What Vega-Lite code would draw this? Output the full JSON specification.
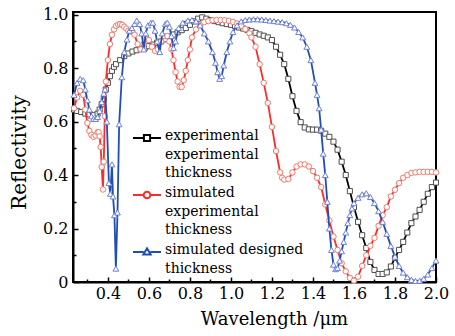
{
  "$schema": "https://vega.github.io/schema/vega-lite/v6.json",
  "autosize": {"type": "none"},
  "width": 363,
  "height": 270,
  "padding": {"left": 73, "top": 12, "right": 19, "bottom": 54},
  "config": {
    "view": {"stroke": "black", "strokeWidth": 2},
    "font": "DejaVu Serif"
  },
  "data": {"values": [
    {"s":"e","x":0.235,"y":0.645},{"s":"e","x":0.25,"y":0.64},{"s":"e","x":0.27,"y":0.636},{"s":"e","x":0.29,"y":0.63},{"s":"e","x":0.31,"y":0.627},{"s":"e","x":0.33,"y":0.625},{"s":"e","x":0.35,"y":0.63},{"s":"e","x":0.36,"y":0.645},{"s":"e","x":0.37,"y":0.665},{"s":"e","x":0.38,"y":0.685},{"s":"e","x":0.39,"y":0.72},{"s":"e","x":0.40,"y":0.745},{"s":"e","x":0.41,"y":0.77},{"s":"e","x":0.42,"y":0.79},{"s":"e","x":0.43,"y":0.805},{"s":"e","x":0.44,"y":0.815},{"s":"e","x":0.46,"y":0.83},{"s":"e","x":0.48,"y":0.845},{"s":"e","x":0.50,"y":0.855},{"s":"e","x":0.52,"y":0.862},{"s":"e","x":0.54,"y":0.867},{"s":"e","x":0.56,"y":0.872},{"s":"e","x":0.58,"y":0.876},{"s":"e","x":0.60,"y":0.882},{"s":"e","x":0.62,"y":0.888},{"s":"e","x":0.64,"y":0.895},{"s":"e","x":0.66,"y":0.90},{"s":"e","x":0.68,"y":0.908},{"s":"e","x":0.70,"y":0.918},{"s":"e","x":0.72,"y":0.926},{"s":"e","x":0.74,"y":0.934},{"s":"e","x":0.76,"y":0.942},{"s":"e","x":0.78,"y":0.95},{"s":"e","x":0.80,"y":0.962},{"s":"e","x":0.82,"y":0.975},{"s":"e","x":0.84,"y":0.985},{"s":"e","x":0.86,"y":0.99},{"s":"e","x":0.88,"y":0.985},{"s":"e","x":0.90,"y":0.98},{"s":"e","x":0.92,"y":0.976},{"s":"e","x":0.94,"y":0.972},{"s":"e","x":0.96,"y":0.968},{"s":"e","x":0.98,"y":0.965},{"s":"e","x":1.00,"y":0.962},{"s":"e","x":1.02,"y":0.958},{"s":"e","x":1.04,"y":0.952},{"s":"e","x":1.06,"y":0.948},{"s":"e","x":1.08,"y":0.943},{"s":"e","x":1.10,"y":0.938},{"s":"e","x":1.12,"y":0.932},{"s":"e","x":1.14,"y":0.926},{"s":"e","x":1.16,"y":0.921},{"s":"e","x":1.18,"y":0.915},{"s":"e","x":1.20,"y":0.905},{"s":"e","x":1.22,"y":0.88},{"s":"e","x":1.24,"y":0.85},{"s":"e","x":1.26,"y":0.815},{"s":"e","x":1.28,"y":0.76},{"s":"e","x":1.30,"y":0.695},{"s":"e","x":1.32,"y":0.64},{"s":"e","x":1.34,"y":0.598},{"s":"e","x":1.36,"y":0.578},{"s":"e","x":1.38,"y":0.571},{"s":"e","x":1.40,"y":0.57},{"s":"e","x":1.42,"y":0.57},{"s":"e","x":1.44,"y":0.566},{"s":"e","x":1.46,"y":0.555},{"s":"e","x":1.48,"y":0.543},{"s":"e","x":1.50,"y":0.525},{"s":"e","x":1.52,"y":0.495},{"s":"e","x":1.54,"y":0.45},{"s":"e","x":1.56,"y":0.40},{"s":"e","x":1.58,"y":0.34},{"s":"e","x":1.60,"y":0.28},{"s":"e","x":1.62,"y":0.225},{"s":"e","x":1.64,"y":0.175},{"s":"e","x":1.66,"y":0.127},{"s":"e","x":1.68,"y":0.075},{"s":"e","x":1.70,"y":0.045},{"s":"e","x":1.72,"y":0.03},{"s":"e","x":1.74,"y":0.03},{"s":"e","x":1.76,"y":0.036},{"s":"e","x":1.78,"y":0.058},{"s":"e","x":1.80,"y":0.09},{"s":"e","x":1.82,"y":0.12},{"s":"e","x":1.84,"y":0.15},{"s":"e","x":1.86,"y":0.185},{"s":"e","x":1.88,"y":0.22},{"s":"e","x":1.90,"y":0.245},{"s":"e","x":1.92,"y":0.27},{"s":"e","x":1.94,"y":0.30},{"s":"e","x":1.96,"y":0.33},{"s":"e","x":1.98,"y":0.355},{"s":"e","x":2.00,"y":0.372},

    {"s":"s","x":0.235,"y":0.65},{"s":"s","x":0.25,"y":0.69},{"s":"s","x":0.265,"y":0.715},{"s":"s","x":0.28,"y":0.70},{"s":"s","x":0.29,"y":0.645},{"s":"s","x":0.30,"y":0.595},{"s":"s","x":0.31,"y":0.565},{"s":"s","x":0.32,"y":0.55},{"s":"s","x":0.33,"y":0.543},{"s":"s","x":0.34,"y":0.548},{"s":"s","x":0.35,"y":0.56},{"s":"s","x":0.355,"y":0.56},{"s":"s","x":0.36,"y":0.545},{"s":"s","x":0.365,"y":0.505},{"s":"s","x":0.37,"y":0.43},{"s":"s","x":0.376,"y":0.346},{"s":"s","x":0.38,"y":0.45},{"s":"s","x":0.385,"y":0.62},{"s":"s","x":0.39,"y":0.75},{"s":"s","x":0.40,"y":0.83},{"s":"s","x":0.41,"y":0.89},{"s":"s","x":0.42,"y":0.925},{"s":"s","x":0.43,"y":0.945},{"s":"s","x":0.44,"y":0.958},{"s":"s","x":0.45,"y":0.963},{"s":"s","x":0.46,"y":0.965},{"s":"s","x":0.47,"y":0.962},{"s":"s","x":0.48,"y":0.955},{"s":"s","x":0.49,"y":0.948},{"s":"s","x":0.50,"y":0.94},{"s":"s","x":0.52,"y":0.935},{"s":"s","x":0.53,"y":0.925},{"s":"s","x":0.545,"y":0.89},{"s":"s","x":0.56,"y":0.87},{"s":"s","x":0.575,"y":0.89},{"s":"s","x":0.59,"y":0.91},{"s":"s","x":0.60,"y":0.905},{"s":"s","x":0.615,"y":0.88},{"s":"s","x":0.63,"y":0.865},{"s":"s","x":0.645,"y":0.87},{"s":"s","x":0.66,"y":0.90},{"s":"s","x":0.675,"y":0.92},{"s":"s","x":0.69,"y":0.92},{"s":"s","x":0.70,"y":0.90},{"s":"s","x":0.71,"y":0.87},{"s":"s","x":0.72,"y":0.83},{"s":"s","x":0.73,"y":0.785},{"s":"s","x":0.74,"y":0.75},{"s":"s","x":0.75,"y":0.73},{"s":"s","x":0.76,"y":0.73},{"s":"s","x":0.77,"y":0.755},{"s":"s","x":0.78,"y":0.79},{"s":"s","x":0.79,"y":0.83},{"s":"s","x":0.80,"y":0.87},{"s":"s","x":0.81,"y":0.915},{"s":"s","x":0.83,"y":0.945},{"s":"s","x":0.85,"y":0.963},{"s":"s","x":0.87,"y":0.972},{"s":"s","x":0.89,"y":0.976},{"s":"s","x":0.91,"y":0.979},{"s":"s","x":0.93,"y":0.98},{"s":"s","x":0.95,"y":0.98},{"s":"s","x":0.97,"y":0.979},{"s":"s","x":0.99,"y":0.977},{"s":"s","x":1.01,"y":0.973},{"s":"s","x":1.03,"y":0.967},{"s":"s","x":1.05,"y":0.958},{"s":"s","x":1.07,"y":0.946},{"s":"s","x":1.09,"y":0.93},{"s":"s","x":1.10,"y":0.915},{"s":"s","x":1.12,"y":0.88},{"s":"s","x":1.14,"y":0.815},{"s":"s","x":1.16,"y":0.745},{"s":"s","x":1.18,"y":0.67},{"s":"s","x":1.20,"y":0.58},{"s":"s","x":1.22,"y":0.49},{"s":"s","x":1.24,"y":0.41},{"s":"s","x":1.25,"y":0.39},{"s":"s","x":1.26,"y":0.383},{"s":"s","x":1.28,"y":0.385},{"s":"s","x":1.30,"y":0.41},{"s":"s","x":1.32,"y":0.432},{"s":"s","x":1.34,"y":0.44},{"s":"s","x":1.36,"y":0.44},{"s":"s","x":1.38,"y":0.432},{"s":"s","x":1.40,"y":0.415},{"s":"s","x":1.42,"y":0.39},{"s":"s","x":1.44,"y":0.355},{"s":"s","x":1.46,"y":0.29},{"s":"s","x":1.48,"y":0.23},{"s":"s","x":1.50,"y":0.17},{"s":"s","x":1.52,"y":0.12},{"s":"s","x":1.54,"y":0.07},{"s":"s","x":1.56,"y":0.04},{"s":"s","x":1.58,"y":0.015},{"s":"s","x":1.60,"y":0.005},{"s":"s","x":1.62,"y":0.02},{"s":"s","x":1.64,"y":0.06},{"s":"s","x":1.66,"y":0.10},{"s":"s","x":1.68,"y":0.135},{"s":"s","x":1.70,"y":0.165},{"s":"s","x":1.72,"y":0.21},{"s":"s","x":1.74,"y":0.25},{"s":"s","x":1.76,"y":0.28},{"s":"s","x":1.78,"y":0.32},{"s":"s","x":1.80,"y":0.345},{"s":"s","x":1.82,"y":0.37},{"s":"s","x":1.84,"y":0.39},{"s":"s","x":1.86,"y":0.40},{"s":"s","x":1.88,"y":0.408},{"s":"s","x":1.90,"y":0.41},{"s":"s","x":1.92,"y":0.412},{"s":"s","x":1.94,"y":0.412},{"s":"s","x":1.96,"y":0.412},{"s":"s","x":1.98,"y":0.412},{"s":"s","x":2.00,"y":0.41},

    {"s":"d","x":0.235,"y":0.70},{"s":"d","x":0.25,"y":0.745},{"s":"d","x":0.265,"y":0.76},{"s":"d","x":0.28,"y":0.755},{"s":"d","x":0.29,"y":0.72},{"s":"d","x":0.30,"y":0.68},{"s":"d","x":0.31,"y":0.645},{"s":"d","x":0.32,"y":0.62},{"s":"d","x":0.33,"y":0.61},{"s":"d","x":0.34,"y":0.61},{"s":"d","x":0.35,"y":0.617},{"s":"d","x":0.36,"y":0.64},{"s":"d","x":0.37,"y":0.673},{"s":"d","x":0.38,"y":0.705},{"s":"d","x":0.386,"y":0.72},{"s":"d","x":0.395,"y":0.60},{"s":"d","x":0.405,"y":0.37},{"s":"d","x":0.412,"y":0.33},{"s":"d","x":0.42,"y":0.44},{"s":"d","x":0.425,"y":0.32},{"s":"d","x":0.432,"y":0.25},{"s":"d","x":0.439,"y":0.05},{"s":"d","x":0.447,"y":0.26},{"s":"d","x":0.455,"y":0.59},{"s":"d","x":0.468,"y":0.766},{"s":"d","x":0.48,"y":0.86},{"s":"d","x":0.493,"y":0.907},{"s":"d","x":0.505,"y":0.94},{"s":"d","x":0.517,"y":0.95},{"s":"d","x":0.53,"y":0.965},{"s":"d","x":0.541,"y":0.978},{"s":"d","x":0.555,"y":0.965},{"s":"d","x":0.565,"y":0.93},{"s":"d","x":0.575,"y":0.87},{"s":"d","x":0.585,"y":0.93},{"s":"d","x":0.595,"y":0.96},{"s":"d","x":0.61,"y":0.97},{"s":"d","x":0.62,"y":0.97},{"s":"d","x":0.63,"y":0.94},{"s":"d","x":0.64,"y":0.90},{"s":"d","x":0.653,"y":0.86},{"s":"d","x":0.665,"y":0.93},{"s":"d","x":0.68,"y":0.965},{"s":"d","x":0.69,"y":0.97},{"s":"d","x":0.70,"y":0.955},{"s":"d","x":0.71,"y":0.92},{"s":"d","x":0.72,"y":0.875},{"s":"d","x":0.73,"y":0.90},{"s":"d","x":0.745,"y":0.95},{"s":"d","x":0.765,"y":0.97},{"s":"d","x":0.79,"y":0.978},{"s":"d","x":0.81,"y":0.98},{"s":"d","x":0.83,"y":0.975},{"s":"d","x":0.85,"y":0.96},{"s":"d","x":0.87,"y":0.93},{"s":"d","x":0.89,"y":0.90},{"s":"d","x":0.91,"y":0.86},{"s":"d","x":0.925,"y":0.82},{"s":"d","x":0.935,"y":0.785},{"s":"d","x":0.945,"y":0.76},{"s":"d","x":0.955,"y":0.77},{"s":"d","x":0.965,"y":0.81},{"s":"d","x":0.98,"y":0.86},{"s":"d","x":0.995,"y":0.90},{"s":"d","x":1.01,"y":0.935},{"s":"d","x":1.03,"y":0.96},{"s":"d","x":1.05,"y":0.975},{"s":"d","x":1.07,"y":0.98},{"s":"d","x":1.09,"y":0.982},{"s":"d","x":1.11,"y":0.983},{"s":"d","x":1.13,"y":0.983},{"s":"d","x":1.15,"y":0.982},{"s":"d","x":1.17,"y":0.98},{"s":"d","x":1.19,"y":0.978},{"s":"d","x":1.21,"y":0.976},{"s":"d","x":1.23,"y":0.974},{"s":"d","x":1.25,"y":0.972},{"s":"d","x":1.27,"y":0.968},{"s":"d","x":1.29,"y":0.962},{"s":"d","x":1.31,"y":0.952},{"s":"d","x":1.33,"y":0.935},{"s":"d","x":1.35,"y":0.915},{"s":"d","x":1.37,"y":0.88},{"s":"d","x":1.39,"y":0.83},{"s":"d","x":1.41,"y":0.745},{"s":"d","x":1.42,"y":0.70},{"s":"d","x":1.43,"y":0.65},{"s":"d","x":1.44,"y":0.57},{"s":"d","x":1.45,"y":0.48},{"s":"d","x":1.46,"y":0.40},{"s":"d","x":1.47,"y":0.30},{"s":"d","x":1.48,"y":0.20},{"s":"d","x":1.49,"y":0.12},{"s":"d","x":1.50,"y":0.065},{"s":"d","x":1.51,"y":0.048},{"s":"d","x":1.52,"y":0.052},{"s":"d","x":1.53,"y":0.08},{"s":"d","x":1.54,"y":0.115},{"s":"d","x":1.55,"y":0.15},{"s":"d","x":1.56,"y":0.185},{"s":"d","x":1.57,"y":0.22},{"s":"d","x":1.58,"y":0.25},{"s":"d","x":1.59,"y":0.275},{"s":"d","x":1.60,"y":0.295},{"s":"d","x":1.62,"y":0.315},{"s":"d","x":1.64,"y":0.328},{"s":"d","x":1.66,"y":0.332},{"s":"d","x":1.68,"y":0.318},{"s":"d","x":1.70,"y":0.295},{"s":"d","x":1.72,"y":0.265},{"s":"d","x":1.74,"y":0.225},{"s":"d","x":1.76,"y":0.18},{"s":"d","x":1.78,"y":0.135},{"s":"d","x":1.80,"y":0.095},{"s":"d","x":1.82,"y":0.06},{"s":"d","x":1.84,"y":0.035},{"s":"d","x":1.86,"y":0.018},{"s":"d","x":1.88,"y":0.008},{"s":"d","x":1.90,"y":0.004},{"s":"d","x":1.92,"y":0.005},{"s":"d","x":1.94,"y":0.012},{"s":"d","x":1.96,"y":0.028},{"s":"d","x":1.98,"y":0.052},{"s":"d","x":2.00,"y":0.08}
  ]},
  "resolve": {"axis": {"x": "independent", "y": "independent"}},
  "layer": [
    {
      "transform": [{"filter": "datum.s == 'e'"}],
      "mark": {"type": "line", "strokeWidth": 1.8},
      "encoding": {
        "x": {"field": "x", "type": "quantitative", "scale": {"domain": [0.23, 2.0], "nice": false, "zero": false},
          "axis": {"orient": "bottom", "values": [0.4,0.6,0.8,1.0,1.2,1.4,1.6,1.8,2.0], "format": ".1f", "grid": false,
            "tickSize": -5, "tickColor": "black", "tickWidth": 1.5, "domainColor": "black", "domainWidth": 2,
            "labelFont": "DejaVu Serif", "labelFontSize": 16, "labelColor": "black", "labelPadding": 8, "labelFlush": false, "labelOverlap": false,
            "title": "Wavelength /μm", "titleFont": "DejaVu Serif", "titleFontSize": 18, "titleFontWeight": "normal", "titleColor": "black", "titlePadding": 9, "titleX": 201}},
        "y": {"field": "y", "type": "quantitative", "scale": {"domain": [0, 1.01], "nice": false, "zero": true},
          "axis": {"orient": "left", "values": [0,0.2,0.4,0.6,0.8,1.0], "labelExpr": "datum.value == 0 ? '0' : format(datum.value, '.1f')", "grid": false,
            "tickSize": -5, "tickColor": "black", "tickWidth": 1.5, "domainColor": "black", "domainWidth": 2,
            "labelFont": "DejaVu Serif", "labelFontSize": 16, "labelColor": "black", "labelPadding": 10, "labelFlush": false, "labelOverlap": false,
            "title": "Reflectivity", "titleFont": "DejaVu Serif", "titleFontSize": 20, "titleFontWeight": "normal", "titleColor": "black", "titlePadding": 13, "titleY": 140}},
        "color": {"field": "s", "type": "nominal",
          "scale": {"domain": ["e", "s", "d"], "range": ["#000000", "#ff2a2a", "#1f4fb4"]},
          "legend": {
            "orient": "none", "legendX": 59, "legendY": 111, "title": null, "padding": 0,
            "labelExpr": "datum.value == 'e' ? ['experimental', 'experimental', 'thickness'] : datum.value == 's' ? ['simulated', 'experimental', 'thickness'] : ['simulated designed', 'thickness']",
            "labelFont": "DejaVu Serif", "labelFontSize": 14, "labelColor": "black", "labelLimit": 400,
            "labelBaseline": "top", "labelOffset": 3,
            "symbolSize": 784, "symbolStrokeWidth": 2, "rowPadding": 0,
            "encode": {
              "symbols": {"update": {
                "shape": {"signal": "datum.value == 'e' ? 'M-1,0H-0.22M0.22,0H1M-0.22,-0.22H0.22V0.22H-0.22Z' : datum.value == 's' ? 'M-1,0H-0.24M0.24,0H1M-0.24,0A0.24,0.24,0,1,1,0.24,0A0.24,0.24,0,1,1,-0.24,0Z' : 'M-1,0H-0.24M0.24,0H1M0,-0.26L0.26,0.18L-0.26,0.18Z'"},
                "fill": {"value": "white"},
                "fillOpacity": {"value": 1}
              }},
              "labels": {"update": {"dy": {"value": -9}, "lineHeight": {"value": 18.5}}}
            }
          }}
      }
    },
    {
      "transform": [{"filter": "datum.s == 'e'"}],
      "mark": {"type": "point", "shape": "square", "filled": false, "fill": "white", "stroke": "#505050", "strokeWidth": 1, "size": 26, "opacity": 1},
      "encoding": {
        "x": {"field": "x", "type": "quantitative",
          "axis": {"orient": "bottom", "values": [0.3,0.5,0.7,0.9,1.1,1.3,1.5,1.7,1.9], "labels": false, "domain": false, "grid": false, "tickSize": -3, "tickColor": "black", "tickWidth": 1.5, "title": null}},
        "y": {"field": "y", "type": "quantitative",
          "axis": {"orient": "left", "values": [0.1,0.3,0.5,0.7,0.9], "labels": false, "domain": false, "grid": false, "tickSize": -3, "tickColor": "black", "tickWidth": 1.5, "title": null}}
      }
    },
    {
      "transform": [{"filter": "datum.s == 's'"}],
      "mark": {"type": "line", "strokeWidth": 1.8},
      "encoding": {
        "x": {"field": "x", "type": "quantitative", "axis": null},
        "y": {"field": "y", "type": "quantitative", "axis": null},
        "color": {"field": "s", "type": "nominal"}
      }
    },
    {
      "transform": [{"filter": "datum.s == 's'"}],
      "mark": {"type": "point", "shape": "circle", "filled": false, "fill": "white", "stroke": "#f07a6a", "strokeWidth": 1, "size": 30, "opacity": 1},
      "encoding": {
        "x": {"field": "x", "type": "quantitative", "axis": null},
        "y": {"field": "y", "type": "quantitative", "axis": null}
      }
    },
    {
      "transform": [{"filter": "datum.s == 'd'"}],
      "mark": {"type": "line", "strokeWidth": 1.8},
      "encoding": {
        "x": {"field": "x", "type": "quantitative", "axis": null},
        "y": {"field": "y", "type": "quantitative", "axis": null},
        "color": {"field": "s", "type": "nominal"}
      }
    },
    {
      "transform": [{"filter": "datum.s == 'd'"}],
      "mark": {"type": "point", "shape": "triangle-up", "filled": false, "fill": "white", "stroke": "#6f80d8", "strokeWidth": 1, "size": 34, "opacity": 1},
      "encoding": {
        "x": {"field": "x", "type": "quantitative", "axis": null},
        "y": {"field": "y", "type": "quantitative", "axis": null}
      }
    }
  ]
}
